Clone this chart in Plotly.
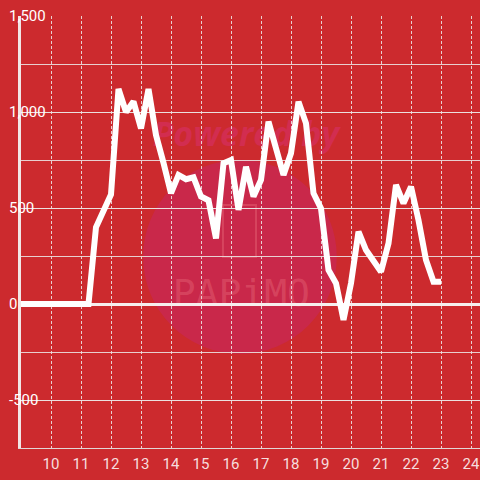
import plotly.graph_objects as go

# quarter-hour readings
hours = [
    9.0, 9.25, 9.5, 9.75, 10.0, 10.25, 10.5, 10.75, 11.0, 11.25,
    11.5, 11.75, 12.0, 12.25, 12.5, 12.75, 13.0, 13.25, 13.5, 13.75,
    14.0, 14.25, 14.5, 14.75, 15.0, 15.25, 15.5, 15.75, 16.0, 16.25,
    16.5, 16.75, 17.0, 17.25, 17.5, 17.75, 18.0, 18.25, 18.5, 18.75,
    19.0, 19.25, 19.5, 19.75, 20.0, 20.25, 20.5, 20.75, 21.0, 21.25,
    21.5, 21.75, 22.0, 22.25, 22.5, 22.75, 23.0,
]
values = [
    0, 0, 0, 0, 0, 0, 0, 0, 0, 0,
    400, 490, 570, 1120, 1000, 1054, 915, 1120, 880, 735,
    577, 672, 650, 660, 560, 540, 342, 733, 750, 490,
    715, 560, 646, 950, 811, 672, 785, 1054, 941, 577,
    498, 177, 108, -83, 108, 377, 281, 225, 168, 316,
    620, 524, 611, 437, 229, 116, 116,
]

x_ticks = list(range(10, 25))
y_ticks = [-500, 0, 500, 1000, 1500]
y_labels = ["-500", "0", "500", "1,000", "1,500"]

bg = "#cc2a2e"
label_color = "rgba(255,255,255,0.85)"
grid_color = "rgba(235,225,225,0.9)"
mark_color = "rgba(235,110,125,0.4)"

fig = go.Figure(
    go.Scatter(
        x=hours,
        y=values,
        mode="lines",
        line={"color": "white", "width": 6},
        hoverinfo="skip",
    )
)

# faint watermark behind the plot
fig.add_shape(
    type="circle", xref="paper", yref="paper",
    x0=0.266, x1=0.688, y0=0.218, y1=0.667,
    fillcolor="#c9284a", line={"width": 0}, layer="below",
)
fig.add_shape(
    type="rect", xref="paper", yref="paper",
    x0=0.44, x1=0.512, y0=0.442, y1=0.5625,
    line={"color": mark_color, "width": 2}, layer="below",
)
fig.add_shape(
    type="rect", xref="paper", yref="paper",
    x0=0.25, x1=0.73, y0=0.68, y1=0.77,
    line={"width": 0}, layer="below",
    label={
        "text": "Powered by",
        "font": {"family": "Open Sans", "size": 34, "color": "#d22d50",
                 "weight": "bold", "style": "italic"},
        "textposition": "middle center",
    },
)
fig.add_shape(
    type="rect", xref="paper", yref="paper",
    x0=0.3, x1=0.66, y0=0.32, y1=0.41,
    line={"width": 0}, layer="below",
    label={
        "text": "PAPiMO",
        "font": {"family": "DejaVu Sans Mono", "size": 38, "color": mark_color},
        "textposition": "middle center",
    },
)

fig.update_layout(
    width=480,
    height=480,
    margin={"l": 21, "r": 0, "t": 16, "b": 32},
    paper_bgcolor=bg,
    plot_bgcolor=bg,
    showlegend=False,
    font={"family": "Roboto", "size": 15, "color": label_color},
    xaxis={
        "range": [9, 24.3],
        "tickvals": x_ticks,
        "automargin": False,
        "showgrid": True,
        "gridcolor": grid_color,
        "griddash": "3px,2px",
        "gridwidth": 1,
        "zeroline": False,
        "showline": True,
        "linecolor": "rgba(225,215,215,1)",
        "linewidth": 1,
        "ticks": "",
        "ticklabelstandoff": 2,
    },
    yaxis={
        "range": [-750, 1500],
        "tickvals": y_ticks,
        "ticktext": y_labels,
        "automargin": False,
        "showgrid": True,
        "gridcolor": grid_color,
        "gridwidth": 1,
        "minor": {"dtick": 250, "tick0": 0, "showgrid": True,
                  "gridcolor": grid_color, "gridwidth": 1},
        "zeroline": True,
        "zerolinecolor": "#f6eeee",
        "zerolinewidth": 3,
        "showline": True,
        "linecolor": "#f2e6e6",
        "linewidth": 3,
        "ticks": "",
        "ticklabelposition": "inside",
        "ticklabeloverflow": "allow",
        "ticklabelstandoff": -12,
    },
)

fig.write_html(
    "out.html",
    config={"displayModeBar": False},
    post_script="document.body.style.margin='0';document.body.style.background='%s';" % bg,
)
